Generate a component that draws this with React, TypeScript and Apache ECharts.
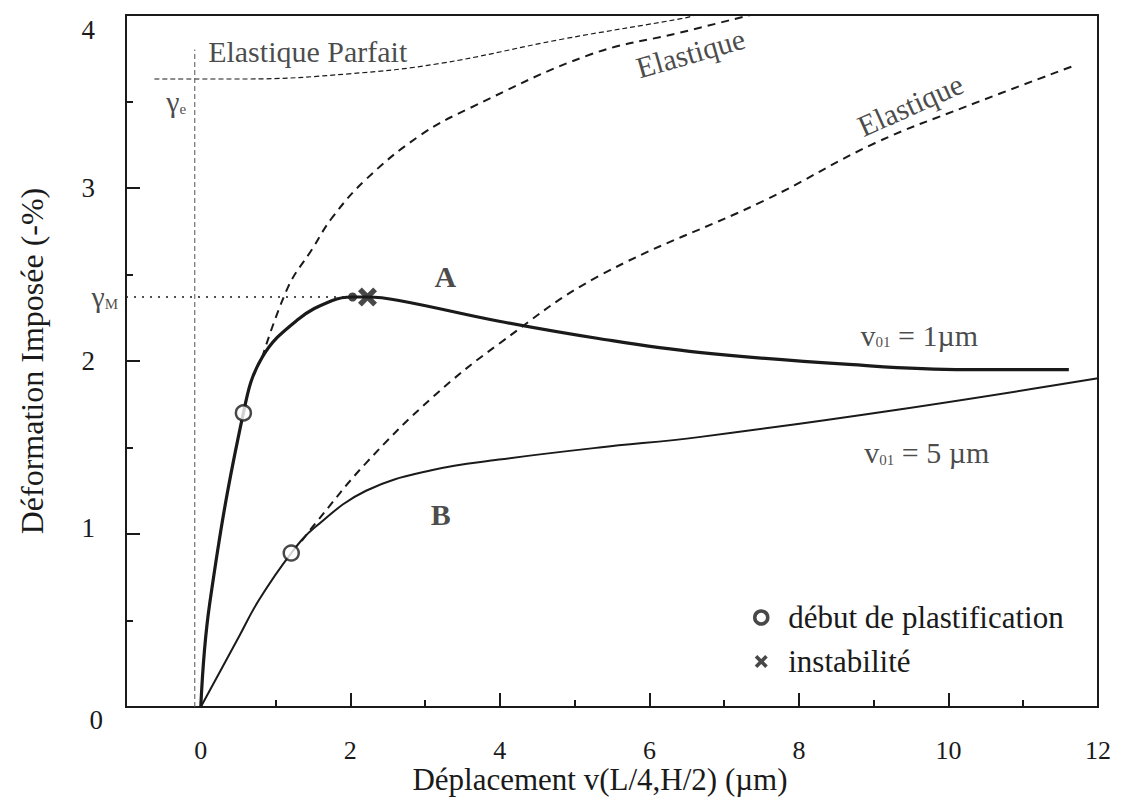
import React, { useEffect, useRef } from "react";
import * as echarts from "echarts";

// ---- data ----
const xLabelValues = [0, 2, 4, 6, 8, 10, 12];
const xMinorTicks = [1, 3, 5, 7, 9, 11];
const xMajorTicks = [2, 4, 6, 8, 10];
const yLabelValues = [0, 1, 2, 3, 4];
const yMinorTicks = [0.5, 1.5, 2.5, 3.5];
const yMajorTicks = [1, 2, 3];

const curveA = [
  [0, 0], [0.12, 0.6], [0.57, 1.7], [0.82, 2.02], [1.3, 2.24], [1.76, 2.35],
  [2.03, 2.37], [2.23, 2.37], [2.65, 2.35], [3.99, 2.23], [5.32, 2.13],
  [6.66, 2.05], [8.67, 1.98], [10.23, 1.95], [11.61, 1.95],
];
const curveB = [
  [0, 0], [0.49, 0.39], [0.78, 0.62], [1.21, 0.89], [1.53, 1.04], [2.21, 1.25],
  [3.1, 1.37], [3.99, 1.43], [5.33, 1.5], [6.66, 1.56], [9.34, 1.72], [12, 1.9],
];
const elasticA = [
  [0.82, 2.02], [1.17, 2.43], [1.48, 2.64], [1.76, 2.83], [2.21, 3.05],
  [2.92, 3.3], [3.59, 3.46], [5.2, 3.77], [6.43, 3.9], [7.35, 4.0],
];
const elasticB = [
  [1.35, 0.96], [1.53, 1.06], [2.21, 1.41], [3.1, 1.79], [3.99, 2.1],
  [5.32, 2.49], [7.55, 2.93], [9.02, 3.26], [10.23, 3.47], [11.7, 3.71],
];
const elasticParfait = [
  [-0.62, 3.63], [0.6, 3.63], [1.98, 3.66], [3.2, 3.72], [4.83, 3.86],
  [6.44, 3.98], [6.62, 4.0],
];
const gammaE = 3.63;
const gammaM = 2.37;
const verticalX = -0.08;
const verticalTop = 3.8;
const plastPoints = [[0.57, 1.7], [1.21, 0.89]];
const peakDot = [[2.03, 2.37]];
const instabPoints = [[2.23, 2.37]];

const textLabels = [
  { pos: [1.43, 3.79], text: "Elastique Parfait", rotate: 0, bold: false, position: "inside" },
  { pos: [-0.33, 3.5], text: "{g|γ}{s|e}", rotate: 0, bold: false, position: "inside" },
  { pos: [-1, gammaM], text: "{g|γ}{s|M}", rotate: 0, bold: false, position: "left" },
  { pos: [3.27, 2.49], text: "A", rotate: 0, bold: true, position: "inside" },
  { pos: [3.21, 1.11], text: "B", rotate: 0, bold: true, position: "inside" },
  { pos: [9.61, 2.15], text: "{g|v}{s|01}{g| = 1µm}", rotate: 0, bold: false, position: "inside" },
  { pos: [9.71, 1.47], text: "{g|v}{s|01}{g| = 5 µm}", rotate: 0, bold: false, position: "inside" },
  { pos: [6.55, 3.78], text: "Elastique", rotate: 16, bold: false, position: "inside" },
  { pos: [9.49, 3.48], text: "Elastique", rotate: 24, bold: false, position: "inside" },
];

const FONT = "Liberation Serif";
const INK = "#1a1a1a";
const XPATH =
  "path://M0,4 L4,0 L10,6 L16,0 L20,4 L14,10 L20,16 L16,20 L10,14 L4,20 L0,16 L6,10 Z";

const rich = {
  g: { fontFamily: FONT, fontSize: 30, color: INK },
  s: { fontFamily: FONT, fontSize: 15, color: INK, padding: [14, 0, 0, 0] },
};

export default function App() {
  const ref = useRef<HTMLDivElement>(null);
  useEffect(() => {
    const chart = echarts.init(ref.current!, null, { renderer: "svg" });
    const xBase = {
      type: "value", min: -1, max: 12, interval: 1,
      splitLine: { show: false }, axisLine: { show: false, onZero: false },
    };
    const yBase = {
      type: "value", min: 0, max: 4, interval: 0.5,
      splitLine: { show: false }, axisLine: { show: false, onZero: false },
    };
    chart.setOption({
      animation: false,
      backgroundColor: "#fff",
      grid: {
        left: 126, right: 27, top: 15, bottom: 93, show: true, borderColor: INK, borderWidth: 2,
        containLabel: false, outerBoundsMode: "none",
      },
      xAxis: [
        {
          ...xBase,
          name: "Déplacement v(L/4,H/2) (µm)",
          nameLocation: "middle",
          nameGap: 57,
          nameMoveOverlap: false,
          nameTextStyle: { fontFamily: FONT, fontSize: 31, color: INK, padding: [0, 24, 0, 0] },
          axisTick: { show: true, inside: true, length: 7, customValues: xMinorTicks, lineStyle: { color: INK, width: 2 } },
          axisLabel: { customValues: xLabelValues, margin: 30, fontFamily: FONT, fontSize: 26, lineHeight: 26, color: INK },
        },
        {
          ...xBase,
          position: "bottom",
          axisTick: { show: true, inside: true, length: 14, customValues: xMajorTicks, lineStyle: { color: INK, width: 2 } },
          axisLabel: { show: false },
        },
      ],
      yAxis: [
        {
          ...yBase,
          name: "Déformation Imposée (-%)",
          nameLocation: "middle",
          nameGap: 78,
          nameMoveOverlap: false,
          nameRotate: 90,
          nameTextStyle: { fontFamily: FONT, fontSize: 32, color: INK },
          axisTick: { show: true, inside: true, length: 7, customValues: yMinorTicks, lineStyle: { color: INK, width: 2 } },
          axisLabel: {
            customValues: yLabelValues,
            margin: 31,
            fontFamily: FONT,
            fontSize: 27,
            color: INK,
            formatter: (v: number) => (v === 4 ? "{d|4}" : v === 0 ? "{z|0}" : v === 1 ? "{u|1}" : String(v)),
            rich: {
              d: { fontFamily: FONT, fontSize: 27, color: INK, padding: [30, 0, 0, 0] },
              z: { fontFamily: FONT, fontSize: 27, color: INK, padding: [26, -8, 0, 0] },
              u: { fontFamily: FONT, fontSize: 27, color: INK, padding: [0, 0, 12, 0] },
            },
          },
        },
        {
          ...yBase,
          position: "left",
          axisTick: { show: true, inside: true, length: 14, customValues: yMajorTicks, lineStyle: { color: INK, width: 2 } },
          axisLabel: { show: false },
        },
      ],
      legend: {
        left: 753,
        top: 602,
        padding: 0,
        orient: "vertical",
        itemGap: 13,
        itemWidth: 30,
        itemHeight: 13,
        textStyle: { fontFamily: FONT, fontSize: 31, color: INK, padding: [0, 0, 0, 7] },
        data: [
          { name: "début de plastification", icon: "circle", itemStyle: { color: "#fff", borderColor: INK, borderWidth: 3.5 } },
          { name: "instabilité", icon: XPATH, itemStyle: { color: INK } },
        ],
      },
      series: [
        {
          name: "A", type: "line", data: curveA, symbol: "none", smooth: 0.4,
          lineStyle: { color: INK, width: 3.2 }, z: 3,
        },
        {
          name: "B", type: "line", data: curveB, symbol: "none", smooth: 0.4,
          lineStyle: { color: INK, width: 2 }, z: 3,
        },
        {
          name: "elasA", type: "line", data: elasticA, symbol: "none", smooth: 0.4,
          lineStyle: { color: INK, width: 2, type: [8, 6] },
        },
        {
          name: "elasB", type: "line", data: elasticB, symbol: "none", smooth: 0.4,
          lineStyle: { color: INK, width: 2, type: [8, 6] },
        },
        {
          name: "parfait", type: "line", data: elasticParfait, symbol: "none", smooth: 0.4,
          lineStyle: { color: INK, width: 1.2, type: [5, 3] },
        },
        {
          name: "vertical", type: "line", data: [[verticalX, 0], [verticalX, verticalTop]], symbol: "none",
          lineStyle: { color: "#555", width: 1, type: [5, 3] },
        },
        {
          name: "gammaM", type: "line",
          data: [[-1, gammaM], [peakDot[0][0], gammaM]],
          symbol: "none",
          lineStyle: { color: INK, width: 1.6, type: [2, 6] },
        },
        {
          name: "gammaE", type: "line", data: [[-0.62, gammaE], [0.6, gammaE]], symbol: "none",
          lineStyle: { width: 0 },
        },
        {
          name: "début de plastification", type: "scatter", data: plastPoints, symbol: "circle", symbolSize: 15,
          itemStyle: { color: "#fff", borderColor: INK, borderWidth: 2.5 }, z: 5,
        },
        {
          name: "peak", type: "scatter", data: peakDot, symbol: "circle", symbolSize: 9,
          itemStyle: { color: INK }, z: 5,
        },
        {
          name: "instabilité", type: "scatter", data: instabPoints, symbol: XPATH, symbolSize: 19,
          itemStyle: { color: INK }, z: 5,
        },
        {
          name: "labels", type: "scatter", symbolSize: 0, silent: true, z: 6, clip: false,
          data: textLabels.map((t) => ({
            value: t.pos,
            label: {
              show: true,
              position: t.position,
              distance: 8,
              formatter: t.text,
              rotate: t.rotate,
              fontFamily: FONT,
              fontSize: 30,
              fontWeight: t.bold ? "bold" : "normal",
              color: INK,
              rich,
            },
          })),
        },
      ],
    });
    return () => chart.dispose();
  }, []);
  return <div ref={ref} style={{ position: "fixed", left: 0, top: 0, width: 1125, height: 800, background: "#fff" }} />;
}
